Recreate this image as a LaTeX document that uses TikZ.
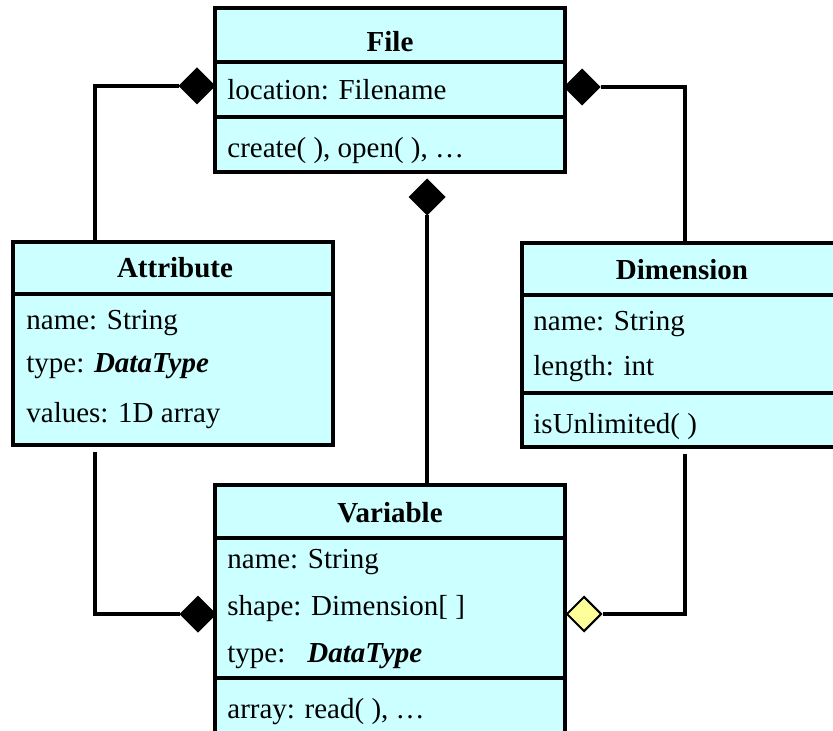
\documentclass[tikz,border=0pt]{standalone}
\usepackage{fontspec}
\setmainfont{Liberation Serif}
\usetikzlibrary{shapes.geometric,fit,calc}
\definecolor{umlcyan}{HTML}{CCFFFF}
\definecolor{umlyellow}{HTML}{FFFF99}
\begin{document}
\begin{tikzpicture}[x=0.5pt,y=-0.5pt,
  umlbox/.style={draw=black, line width=1.6pt, fill=umlcyan, inner sep=0pt},
  divline/.style={draw=black, line width=1.6pt},
  conn/.style={draw=black, line width=1.6pt},
  txt/.style={anchor=base west, inner sep=0pt, font=\fontsize{14.5pt}{17pt}\selectfont},
  ttl/.style={anchor=base, inner sep=0pt, font=\fontsize{14.5pt}{17pt}\selectfont\bfseries},
  dia/.style={diamond, draw=black, line width=1pt, inner sep=0pt, minimum width=17.5pt, minimum height=17.5pt},
  fulldia/.style={dia, fill=black},
  opendia/.style={dia, fill=umlyellow}]
\useasboundingbox (0,0) rectangle (833,731);
\clip (0,0) rectangle (833,731);
\fill[white] (0,0) rectangle (833,731);

% boxes
\node[umlbox, fit={(215,8) (565,172)}] (file) {};
\node[umlbox, fit={(13,242) (333,445)}] (attr) {};
\node[umlbox, fit={(522,243) (843,447)}] (dim) {};
\node[umlbox, fit={(215,485) (565,770)}] (var) {};

% dividers
\draw[divline] (file.west |- 0,62) -- (file.east |- 0,62);
\draw[divline] (file.west |- 0,117) -- (file.east |- 0,117);
\draw[divline] (attr.west |- 0,294) -- (attr.east |- 0,294);
\draw[divline] (dim.west |- 0,295) -- (dim.east |- 0,295);
\draw[divline] (dim.west |- 0,393) -- (dim.east |- 0,393);
\draw[divline] (var.west |- 0,538) -- (var.east |- 0,538);
\draw[divline] (var.west |- 0,678) -- (var.east |- 0,678);

% texts
\node[ttl] (fileT) at (390,52) {File};
\node[txt] (fileA) at (227,100) {location: Filename};
\node[txt] (fileO) at (227,158) {create( ), open( ), \dots};

\node[ttl] (attrT) at (175,278) {Attribute};
\node[txt] (attrA) at (26,329) {name: String};
\node[txt] (attrB) at (26,372) {type: \textbf{\textit{DataType}}};
\node[txt] (attrC) at (26,422) {values: 1D array};

\node[ttl] (dimT) at (682,280) {Dimension};
\node[txt] (dimA) at (533,330) {name: String};
\node[txt] (dimB) at (533,375) {length: int};
\node[txt] (dimO) at (533,433) {isUnlimited( )};

\node[ttl] (varT) at (390,522) {Variable};
\node[txt] (varA) at (227,568) {name: String};
\node[txt] (varB) at (227,615) {shape: Dimension[ ]};
\node[txt] (varC) at (227,662) {type:\hspace{11pt}\textbf{\textit{DataType}}};
\node[txt] (varO) at (227,718) {array: read( ), \dots};

% diamonds
\node[fulldia] (fileL) at (197,86) {};
\node[fulldia] (fileR) at (582,87) {};
\node[fulldia] (fileB) at (427,197) {};
\node[fulldia] (varL) at (198,614) {};
\node[opendia] (varR) at (584,614) {};

% junction coordinates
\coordinate (aj) at (95,0);
\coordinate (dj) at (685,0);

% connectors
\draw[conn] (fileL.west) -| (aj |- attr.north);
\draw[conn] (fileR.east) -| (dj |- dim.north);
\draw[conn] (fileB.south) -- (fileB.south |- var.north);
\draw[conn] ($(aj |- attr.south)+(0,5)$) |- (varL.west);
\draw[conn] ($(dj |- dim.south)+(0,5)$) |- (varR.east);
\end{tikzpicture}
\end{document}
